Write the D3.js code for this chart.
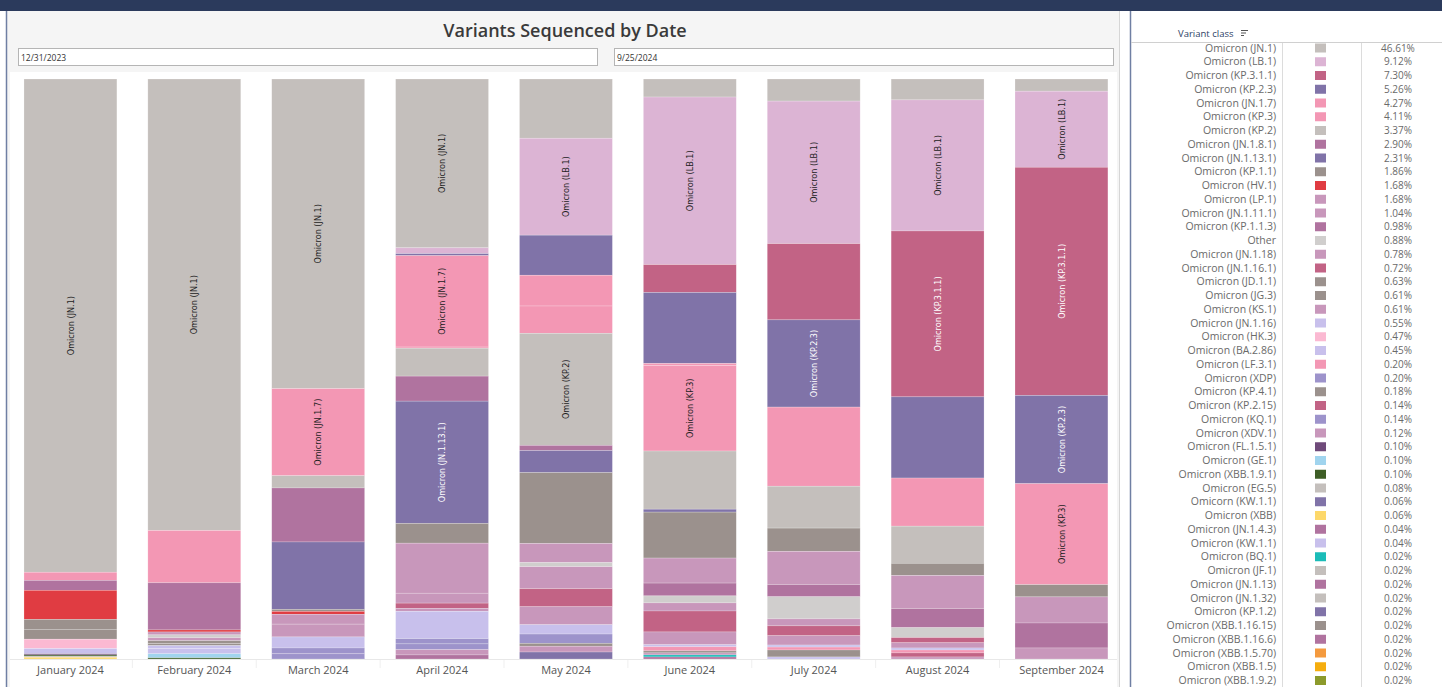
<!DOCTYPE html>
<html><head><meta charset="utf-8">
<script src="https://cdn.jsdelivr.net/npm/d3@7"></script>
<style>
html,body{margin:0;padding:0;background:#fff;overflow:hidden}
svg{display:block}
</style></head>
<body>
<svg id="chart" width="1442" height="687"></svg>
<script>
// ---------- DATA ----------
const months = ["January 2024","February 2024","March 2024","April 2024","May 2024","June 2024","July 2024","August 2024","September 2024"];

const variants = ["Omicron (JN.1)","Omicron (LB.1)","Omicron (KP.3.1.1)","Omicron (KP.2.3)","Omicron (JN.1.7)","Omicron (KP.3)","Omicron (KP.2)","Omicron (JN.1.8.1)","Omicron (JN.1.13.1)","Omicron (KP.1.1)","Omicron (HV.1)","Omicron (LP.1)","Omicron (JN.1.11.1)","Omicron (KP.1.1.3)","Other","Omicron (JN.1.18)","Omicron (JN.1.16.1)","Omicron (JD.1.1)","Omicron (JG.3)","Omicron (KS.1)","Omicron (JN.1.16)","Omicron (HK.3)","Omicron (BA.2.86)","Omicron (LF.3.1)","Omicron (XDP)","Omicron (KP.4.1)","Omicron (KP.2.15)","Omicron (KQ.1)","Omicron (XDV.1)","Omicron (FL.1.5.1)","Omicron (GE.1)","Omicron (XBB.1.9.1)","Omicron (EG.5)","Omicorn (KW.1.1)","Omicron (XBB)","Omicron (JN.1.4.3)","Omicron (KW.1.1)","Omicron (BQ.1)","Omicron (JF.1)","Omicron (JN.1.13)","Omicron (JN.1.32)","Omicron (KP.1.2)","Omicron (XBB.1.16.15)","Omicron (XBB.1.16.6)","Omicron (XBB.1.5.70)","Omicron (XBB.1.5)","Omicron (XBB.1.9.2)"];

const variantColors = ["#c4bfbc","#dcb4d4","#c26385","#8073a8","#f397b4","#f397b4","#c4bfbc","#b0739f","#8073a8","#9b918d","#e03c42","#c897bb","#c897bb","#b0739f","#d0cecd","#c897bb","#c26385","#9b918d","#9b918d","#c897bb","#c8c0ec","#fbb9d2","#c8c0ec","#f397b4","#9d93cb","#9b918d","#c26385","#9d93cb","#c897bb","#6f4a7a","#a0d4ee","#3e5e26","#c4bfbc","#8073a8","#fdd86a","#b0739f","#c8c0ec","#1bbcb8","#c4bfbc","#b0739f","#c4bfbc","#8073a8","#9b918d","#b0739f","#f49a3e","#f5ad0e","#8c9a2b"];

const legendPct = ["46.61%","9.12%","7.30%","5.26%","4.27%","4.11%","3.37%","2.90%","2.31%","1.86%","1.68%","1.68%","1.04%","0.98%","0.88%","0.78%","0.72%","0.63%","0.61%","0.61%","0.55%","0.47%","0.45%","0.20%","0.20%","0.18%","0.14%","0.14%","0.12%","0.10%","0.10%","0.10%","0.08%","0.06%","0.06%","0.04%","0.04%","0.02%","0.02%","0.02%","0.02%","0.02%","0.02%","0.02%","0.02%","0.02%","0.02%"];

// share of sequences (%) per month
const janValues = [["Omicron (JN.1)",84.7],["Omicron (JN.1.7)",1.4],["Omicron (JN.1.8.1)",1.7],["Omicron (HV.1)",5.0],["Omicron (JD.1.1)",1.7],["Omicron (JG.3)",1.7],["Omicron (HK.3)",1.6],["Omicron (BA.2.86)",0.9],["Omicron (FL.1.5.1)",0.2],["Omicron (XBB.1.9.1)",0.2],["Omicron (EG.5)",0.2],["Omicron (XBB)",0.3]];
const febValues = [["Omicron (JN.1)",77.6],["Omicron (JN.1.7)",9.0],["Omicron (JN.1.8.1)",8.1],["Omicron (HV.1)",0.35],["Omicron (LP.1)",0.5],["Other",0.5],["Omicron (JN.1.18)",0.5],["Omicron (JD.1.1)",0.5],["Omicron (JG.3)",0.35],["Omicron (JN.1.16)",0.5],["Omicron (BA.2.86)",0.9],["Omicron (GE.1)",0.7],["Omicron (XBB.1.9.1)",0.2]];
const marValues = [["Omicron (JN.1)",53.3],["Omicron (JN.1.7)",15.0],["Omicron (KP.2)",2.1],["Omicron (JN.1.8.1)",9.3],["Omicron (JN.1.13.1)",11.6],["Omicron (KP.1.1)",0.35],["Omicron (HV.1)",0.5],["Omicron (LP.1)",1.7],["Omicron (JN.1.11.1)",2.2],["Omicron (JN.1.16)",1.9],["Omicron (XDP)",1.0],["Omicron (KQ.1)",0.9]];
const aprValues = [["Omicron (JN.1)",29.0],["Omicron (LB.1)",1.0],["Omicron (KP.2.3)",0.35],["Omicron (JN.1.7)",15.7],["Omicron (KP.3)",0.2],["Omicron (KP.2)",4.8],["Omicron (JN.1.8.1)",4.3],["Omicron (JN.1.13.1)",21.0],["Omicron (KP.1.1)",3.4],["Omicron (LP.1)",8.6],["Omicron (JN.1.11.1)",1.7],["Omicron (JN.1.16.1)",0.9],["Omicron (KS.1)",0.5],["Omicron (JN.1.16)",4.7],["Omicron (XDP)",0.9],["Omicron (KQ.1)",1.0],["Omicron (XDV.1)",0.9],["Omicron (JN.1.4.3)",0.7]];
const mayValues = [["Omicron (JN.1)",10.2],["Omicron (LB.1)",16.7],["Omicron (KP.2.3)",6.9],["Omicron (JN.1.7)",5.3],["Omicron (KP.3)",4.7],["Omicron (KP.2)",19.3],["Omicron (JN.1.8.1)",0.9],["Omicron (JN.1.13.1)",3.8],["Omicron (KP.1.1)",12.2],["Omicron (LP.1)",3.3],["Other",0.7],["Omicron (JN.1.18)",3.8],["Omicron (JN.1.16.1)",3.1],["Omicron (KS.1)",3.1],["Omicron (JN.1.16)",1.6],["Omicron (XDP)",1.6],["Omicron (KP.4.1)",0.5],["Omicron (XDV.1)",1.0],["Omicorn (KW.1.1)",1.2]];
const junValues = [["Omicron (JN.1)",3.1],["Omicron (LB.1)",28.8],["Omicron (KP.3.1.1)",4.8],["Omicron (KP.2.3)",12.2],["Omicron (JN.1.7)",0.35],["Omicron (KP.3)",14.7],["Omicron (KP.2)",10.0],["Omicron (JN.1.13.1)",0.5],["Omicron (KP.1.1)",7.9],["Omicron (LP.1)",4.3],["Omicron (KP.1.1.3)",2.2],["Other",1.2],["Omicron (JN.1.18)",1.4],["Omicron (JN.1.16.1)",3.6],["Omicron (KS.1)",2.2],["Omicron (JN.1.16)",0.35],["Omicron (LF.3.1)",0.7],["Omicron (KP.4.1)",0.35],["Omicron (XDV.1)",0.35],["Omicron (JN.1.13)",0.35],["Omicron (BQ.1)",0.35]];
const julValues = [["Omicron (JN.1)",3.8],["Omicron (LB.1)",24.5],["Omicron (KP.3.1.1)",13.1],["Omicron (KP.2.3)",15.0],["Omicron (KP.3)",13.6],["Omicron (KP.2)",7.2],["Omicron (KP.1.1)",4.0],["Omicron (LP.1)",5.7],["Omicron (KP.1.1.3)",2.1],["Other",3.8],["Omicron (JN.1.18)",1.2],["Omicron (JN.1.16.1)",1.7],["Omicron (KS.1)",1.6],["Omicron (JN.1.16)",0.35],["Omicron (LF.3.1)",0.5],["Omicron (KP.4.1)",1.2],["Omicron (KW.1.1)",0.35]];
const augValues = [["Omicron (JN.1)",3.6],["Omicron (LB.1)",22.6],["Omicron (KP.3.1.1)",28.6],["Omicron (KP.2.3)",14.0],["Omicron (KP.3)",8.3],["Omicron (KP.2)",6.4],["Omicron (KP.1.1)",2.1],["Omicron (LP.1)",5.7],["Omicron (KP.1.1.3)",3.3],["Other",1.7],["Omicron (JN.1.16.1)",0.9],["Omicron (KS.1)",0.9],["Omicron (JN.1.16)",0.35],["Omicron (LF.3.1)",0.5],["Omicron (KP.2.15)",0.7],["Omicron (XDV.1)",0.35]];
const sepValues = [["Omicron (JN.1)",2.1],["Omicron (LB.1)",13.1],["Omicron (KP.3.1.1)",39.3],["Omicron (KP.2.3)",15.2],["Omicron (KP.3)",17.4],["Omicron (KP.1.1)",2.1],["Omicron (LP.1)",4.5],["Omicron (KP.1.1.3)",4.3],["Omicron (KS.1)",1.9]];

const monthSeries = [janValues,febValues,marValues,aprValues,mayValues,junValues,julValues,augValues,sepValues];

// segments that carry a mark label
const labeled = [["January 2024","Omicron (JN.1)"],["February 2024","Omicron (JN.1)"],["March 2024","Omicron (JN.1)"],["March 2024","Omicron (JN.1.7)"],["April 2024","Omicron (JN.1)"],["April 2024","Omicron (JN.1.7)"],["April 2024","Omicron (JN.1.13.1)"],["May 2024","Omicron (LB.1)"],["May 2024","Omicron (KP.2)"],["June 2024","Omicron (LB.1)"],["June 2024","Omicron (KP.3)"],["July 2024","Omicron (LB.1)"],["July 2024","Omicron (KP.2.3)"],["August 2024","Omicron (LB.1)"],["August 2024","Omicron (KP.3.1.1)"],["September 2024","Omicron (LB.1)"],["September 2024","Omicron (KP.3.1.1)"],["September 2024","Omicron (KP.2.3)"],["September 2024","Omicron (KP.3)"]];

const titleText = "Variants Sequenced by Date";
const startDate = "12/31/2023";
const endDate = "9/25/2024";
const legendTitle = "Variant class";

// ---------- DRAW ----------
const svg = d3.select("#chart");
const W = 1442, H = 687;
const FONT = "'Open Sans', 'Noto Sans', sans-serif";

// backgrounds
svg.append("rect").attr("x",0).attr("y",0).attr("width",W).attr("height",H).attr("fill","#fff");
svg.append("rect").attr("x",7).attr("y",10).attr("width",1112).attr("height",H-10).attr("fill","#f5f5f5");
svg.append("rect").attr("x",10).attr("y",72).attr("width",1107).attr("height",H-72).attr("fill","#fff");
svg.append("rect").attr("x",0).attr("y",0).attr("width",W).attr("height",11).attr("fill","#2b3a5c");
svg.append("line").attr("x1",6.5).attr("x2",6.5).attr("y1",11).attr("y2",H).attr("stroke","#6f7fa3").attr("stroke-width",1.5);
svg.append("line").attr("x1",1119.5).attr("x2",1119.5).attr("y1",11).attr("y2",H).attr("stroke","#d6d6d6");
svg.append("line").attr("x1",1130.5).attr("x2",1130.5).attr("y1",11).attr("y2",H).attr("stroke","#6f7fa3").attr("stroke-width",1.5);

// title
svg.append("text").attr("x",565).attr("y",37).attr("text-anchor","middle")
  .attr("font-family",FONT).attr("font-weight",600).attr("font-size",18).attr("fill","#3a3a3a").text(titleText);

// date boxes
[[18,597,startDate],[614,1113,endDate]].forEach(([x0,x1,t])=>{
  svg.append("rect").attr("x",x0+0.5).attr("y",48.5).attr("width",x1-x0).attr("height",17).attr("fill","#fff").attr("stroke","#b5b5b5");
  svg.append("text").attr("x",x0+3).attr("y",60.5).attr("font-family",FONT).attr("font-size",8.5).attr("fill","#333").text(t);
});

// scales
const x = d3.scaleBand().domain(months).range([8.5,1123.4]).paddingInner(0.25).paddingOuter(0.125);
const y = d3.scaleLinear().domain([0,1]).range([659,79]);
const color = d3.scaleOrdinal().domain(variants).range(variantColors);

// table
const table = months.map((m,i)=>{
  const row = {month:m};
  variants.forEach(v=>row[v]=0);
  monthSeries[i].forEach(([v,val])=>row[v]=val);
  return row;
});
const stack = d3.stack().keys(variants).order(d3.stackOrderReverse).offset(d3.stackOffsetExpand);
const series = stack(table);

// axis baseline & separators
svg.append("line").attr("x1",10).attr("x2",1117).attr("y1",659.5).attr("y2",659.5).attr("stroke","#e8e8e8");
months.slice(1).forEach(m=>{
  const sx = x(m) - x.step()*x.paddingInner()/2;
  svg.append("line").attr("x1",sx).attr("x2",sx).attr("y1",660).attr("y2",668).attr("stroke","#efefef");
});

// bars
const g = svg.append("g");
series.forEach(s=>{
  g.selectAll(null).data(s.filter(d=>d[1]-d[0]>0)).enter().append("rect")
    .attr("x",d=>x(d.data.month)).attr("width",x.bandwidth())
    .attr("y",d=>y(d[1])).attr("height",d=>y(d[0])-y(d[1]))
    .attr("fill",color(s.key))
    .attr("stroke","#fff").attr("stroke-opacity",0.35).attr("stroke-width",0.6);
});

// labels
const labelSet = new Set(labeled.map(d=>d[0]+"|"+d[1]));
series.forEach(s=>{
  s.forEach(d=>{
    if(!labelSet.has(d.data.month+"|"+s.key)) return;
    const cx = x(d.data.month)+x.bandwidth()/2;
    const cy = (y(d[0])+y(d[1]))/2;
    const L = d3.lab(color(s.key)).l;
    svg.append("text").attr("transform",`translate(${cx},${cy}) rotate(-90)`)
      .attr("text-anchor","middle").attr("dy","0.35em")
      .attr("font-family","'DejaVu Sans Condensed','DejaVu Sans',sans-serif")
      .attr("font-stretch","condensed")
      .attr("font-size",9).attr("fill",L<62?"#fff":"#222").text(s.key);
  });
});

// x axis labels
const xa = svg.append("g").attr("transform","translate(0,659)")
  .call(d3.axisBottom(x).tickSize(0).tickPadding(7));
xa.select(".domain").remove();
xa.selectAll("text").attr("font-family",FONT).attr("font-size",11).attr("fill","#555");

// legend
svg.append("text").attr("x",1178).attr("y",37).attr("font-family",FONT).attr("font-size",9.5).attr("fill","#2d3f66").text(legendTitle);
const sortIcon = svg.append("g").attr("transform","translate(1241,30)");
[7,5,3].forEach((w,i)=>sortIcon.append("line").attr("x1",0).attr("x2",w).attr("y1",i*2.5+0.5).attr("y2",i*2.5+0.5).attr("stroke","#555").attr("stroke-width",1));
svg.append("line").attr("x1",1131).attr("x2",W).attr("y1",42.5).attr("y2",42.5).attr("stroke","#d0d0d0");
[1282.5,1361.5].forEach(lx=>svg.append("line").attr("x1",lx).attr("x2",lx).attr("y1",43).attr("y2",H).attr("stroke","#dcdcdc"));

const rowY = d3.scaleLinear().domain([0,variants.length-1]).range([48,680.5]);
const lg = svg.append("g");
variants.forEach((v,i)=>{
  const cy = rowY(i);
  lg.append("text").attr("x",1276).attr("y",cy).attr("dy","0.35em").attr("text-anchor","end")
    .attr("font-family",FONT).attr("font-size",10.5).attr("fill","#6a6a6a").text(v);
  lg.append("rect").attr("x",1315).attr("y",cy-4.5).attr("width",11).attr("height",9).attr("fill",color(v));
  lg.append("text").attr("x",1398).attr("y",cy).attr("dy","0.35em").attr("text-anchor","middle")
    .attr("font-family",FONT).attr("font-size",10).attr("fill","#6a6a6a").text(legendPct[i]);
});
</script>
</body></html>
